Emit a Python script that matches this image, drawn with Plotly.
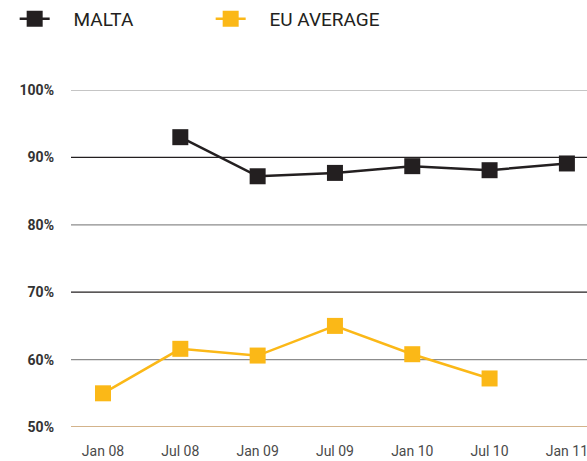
import plotly.graph_objects as go

periods = ["Jan 08", "Jul 08", "Jan 09", "Jul 09", "Jan 10", "Jul 10", "Jan 11"]
malta = [None, 93.0, 87.2, 87.7, 88.7, 88.1, 89.1]
eu_average = [55.0, 61.6, 60.6, 65.0, 60.8, 57.2, None]
y_ticks = [50, 60, 70, 80, 90, 100]
y_labels = ["50%", "60%", "70%", "80%", "90%", "100%"]

BLACK = "#231f20"
YELLOW = "#fbb817"
PAD = "\u00a0" * 4

fig = go.Figure()
fig.add_trace(go.Scatter(
    x=list(range(len(periods))), y=malta, name=PAD + "MALTA",
    mode="lines+markers",
    line=dict(color=BLACK, width=2.5),
    marker=dict(symbol="square", size=16, color=BLACK),
))
fig.add_trace(go.Scatter(
    x=list(range(len(periods))), y=eu_average, name=PAD + "EU AVERAGE",
    mode="lines+markers",
    line=dict(color=YELLOW, width=2.5),
    marker=dict(symbol="square", size=16, color=YELLOW),
))

# gridlines alternate grey / black, bottom one is the tan axis
grid_colors = {50: "#c49a64", 60: "#8c8c8c", 70: BLACK, 80: "#8c8c8c", 90: BLACK, 100: "#8c8c8c"}
for v in y_ticks:
    fig.add_shape(type="line", xref="paper", yref="y", x0=0, x1=1, y0=v, y1=v,
                  line=dict(color=grid_colors[v], width=1.5 if v == 50 else 1.2),
                  layer="below")

fig.update_layout(
    width=587, height=461,
    margin=dict(l=71, r=0, t=90, b=34),
    paper_bgcolor="white", plot_bgcolor="white",
    showlegend=True,
    legend=dict(
        orientation="h", xref="container", yref="container",
        x=0.025, y=1.0, xanchor="left", yanchor="top",
        font=dict(family="Roboto", size=19, color=BLACK),
        entrywidth=151, entrywidthmode="pixels",
        itemsizing="trace",
    ),
    xaxis=dict(
        range=[-0.414, 6.26],
        tickmode="array", tickvals=list(range(len(periods))), ticktext=periods,
        showgrid=False, zeroline=False, showline=False,
        ticks="", ticklabelstandoff=14, ticklabeloverflow="allow",
        tickfont=dict(family="Roboto", size=14, color="#4a4a4a"),
    ),
    yaxis=dict(
        range=[50, 100],
        tickmode="array", tickvals=y_ticks, ticktext=y_labels,
        showgrid=False, zeroline=False, showline=False,
        ticks="", ticklabelstandoff=16,
        tickfont=dict(family="Roboto", size=14, color="#333333", weight="bold"),
    ),
)

fig.write_html("out.html", config={"displayModeBar": False},
               post_script="document.body.style.margin='0';")
